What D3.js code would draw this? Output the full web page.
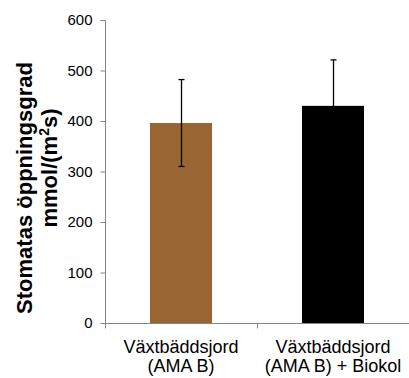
<!DOCTYPE html>
<html><head><meta charset="utf-8">
<script src="https://cdn.jsdelivr.net/npm/d3@7"></script>
<style>body{margin:0;background:#fff}svg{display:block}text{font-family:"Liberation Sans",Arial,sans-serif}</style>
</head><body>
<script>
const categories = [["Växtbäddsjord","(AMA B)"],["Växtbäddsjord","(AMA B) + Biokol"]];
const values = [396, 430];
const errors = [86, 91];
const colors = ["#996633", "#000000"];
const yTicks = [0,100,200,300,400,500,600];

const W=409,H=378;
const svg=d3.select("body").append("svg").attr("width",W).attr("height",H);
const x0=105,x1=409,yTop=20,yBot=323;
const xb=d3.scaleBand().domain(d3.range(values.length)).range([x0,x1]);
const y=d3.scaleLinear().domain([0,600]).range([yBot,yTop]);
const axisColor="#868686";

// bars
svg.selectAll("rect.bar").data(values).enter().append("rect")
 .attr("x",(d,i)=>xb(i)+xb.bandwidth()/2-31).attr("width",62)
 .attr("y",d=>y(d)).attr("height",d=>y(0)-y(d)).attr("fill",(d,i)=>colors[i]);

// error bars
const eb=svg.append("g").attr("stroke","#000").attr("stroke-width",1.3);
values.forEach((v,i)=>{
  const cx=Math.round(xb(i)+xb.bandwidth()/2)+0.5;
  eb.append("line").attr("x1",cx).attr("x2",cx).attr("y1",y(v+errors[i])).attr("y2",y(v-errors[i]));
  [v+errors[i],v-errors[i]].forEach(e=>eb.append("line").attr("x1",cx-3).attr("x2",cx+3).attr("y1",y(e)).attr("y2",y(e)));
});

// y axis
const ya=svg.append("g").attr("transform",`translate(${x0+0.5},0)`)
 .call(d3.axisLeft(y).tickValues(yTicks).tickSize(5).tickPadding(8));
ya.select(".domain").attr("stroke",axisColor).attr("d",`M-5,${yTop+0.5}H0V${yBot+0.5}`);
ya.selectAll(".tick line").attr("stroke",axisColor);
ya.selectAll(".tick text").attr("font-size",15).attr("fill","#000").attr("font-family","Liberation Sans, Arial, sans-serif");

// x axis
const xa=svg.append("g").attr("transform",`translate(0,${yBot+0.5})`);
xa.append("line").attr("x1",x0).attr("x2",x1).attr("stroke",axisColor);
[0,1,2].forEach(i=>{
  const tx=Math.round(x0+i*xb.bandwidth())+0.5;
  xa.append("line").attr("x1",tx).attr("x2",tx).attr("y1",0).attr("y2",5).attr("stroke",axisColor);
});
categories.forEach((c,i)=>{
  c.forEach((line,j)=>xa.append("text").attr("text-anchor","middle").attr("font-size",18)
    .attr("fill","#000").attr("x",xb(i)+xb.bandwidth()/2).attr("y",29+j*19.5).text(line));
});

// y title
const t1=svg.append("text").attr("transform","translate(32,188) rotate(-90)").attr("text-anchor","middle")
 .attr("font-weight","bold").attr("font-size",22).attr("fill","#000").text("Stomatas öppningsgrad");
const t2=svg.append("text").attr("transform","translate(57,168) rotate(-90)").attr("text-anchor","middle")
 .attr("font-weight","bold").attr("font-size",22).attr("fill","#000");
t2.append("tspan").text("mmol/(m");
t2.append("tspan").attr("dy",-8).attr("font-size",14).text("2");
t2.append("tspan").attr("dy",8).text("s)");
</script>
</body></html>
